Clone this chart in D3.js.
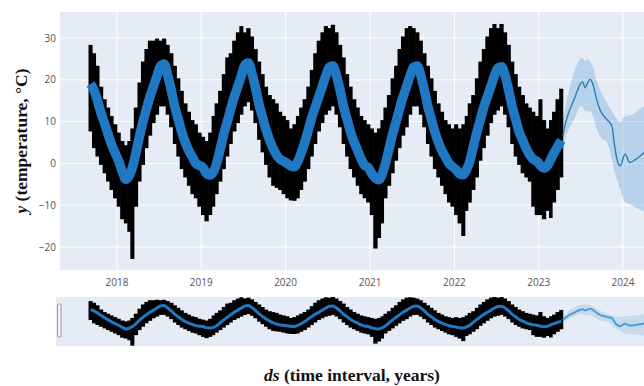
<!DOCTYPE html>
<html>
<head>
<meta charset="utf-8">
<script src="https://cdn.jsdelivr.net/npm/d3@7"></script>
<style>
  body { margin: 0; background: #fff; }
  svg { display: block; }
</style>
</head>
<body>
<svg id="chart" width="644" height="386"></svg>
<script>
// Observations summarised per half-month (1st–15th, 16th–end), starting Sep 2017, °C
const firstBinYear = 2017, firstBinMonth = 8; // September (0-based month)

const obsHigh = [
  28, 26, 23, 18, 15, 13, 11, 9,
  7, 5, 4, 5, 8, 13, 19, 24, 27, 29, 29, 29.5, 29, 29.5, 28, 26, 23, 20, 17, 14, 12, 10, 9, 7,
  6, 5, 7, 11, 14, 17, 21, 25, 26, 29, 31, 32.5, 31, 32, 30, 27, 24, 21, 18, 16, 15, 14, 12, 11,
  10, 8, 9, 11, 13, 15, 18, 22, 26, 29, 31, 32.5, 32, 32.8, 31, 28, 25, 21, 18, 15, 13, 11, 10, 9,
  8, 7, 8, 10, 13, 16, 20, 23, 27, 30, 32, 32.5, 32, 31, 29, 26, 23, 20, 17, 14, 12, 10, 9, 8,
  9, 8, 9, 11, 14, 16, 20, 24, 27, 30, 32, 33, 32, 33, 31, 28, 24, 21, 18, 16, 14, 13, 12, 11,
  15, 10, 8, 10, 12, 15, 17.5
];

const obsLow = [
  8, 4, 2, 0, -2, -4, -6, -8,
  -10, -13, -14, -16, -22.5, -10, -4, 0, 4, 7, 10, 12, 14, 14, 12, 9, 5, 2, -1, -3, -5, -7, -8, -10,
  -12, -13.5, -12, -10, -7, -4, -1, 2, 5, 8, 10, 12, 14, 15, 13, 10, 6, 3, 0, -3, -5, -5.5, -6, -7,
  -8, -8.5, -8.6, -8, -6, -4, -1, 2, 5, 8, 10, 12, 13, 14, 12, 9, 5, 2, -1, -3, -5, -7, -8, -9,
  -12, -20, -17.5, -14, -8, -5, -2, 1, 4, 7, 9, 12, 14, 14, 12, 9, 5, 2, -1, -3, -5, -7, -9, -10,
  -12, -14, -17, -11, -9, -6, -3, 1, 4, 7, 10, 12, 13, 14, 12, 9, 5, 2, 0, -2, -3, -4, -10, -12,
  -12, -13, -11, -12.7, -9, -6, -3
];

// Fitted model over the observed period, same half-month bins
const fitValue = [
  19, 17.5, 15, 12, 9.5, 7, 4.5, 2.5,
  0.5, -2, -3.8, -3, -1, 2.5, 6.5, 10, 13, 16, 18.5, 21, 23.3, 23.8, 21, 17.5, 13.5, 10.5, 7.5, 5, 3, 1.5, 0, -0.5,
  -1, -2.5, -2.8, -2, 0, 3.5, 7, 10, 13, 16, 18.5, 21, 23.5, 24, 21.5, 18, 14, 11, 8, 5.5, 3.5, 2, 1, 0.5,
  0, -0.6, -0.8, 0.5, 2.5, 5, 8, 11, 13.5, 16, 18.5, 21, 23, 23.3, 21, 17.5, 13.5, 10.5, 7.5, 5, 3, 1, -0.5, -1,
  -2.5, -3.5, -3.9, -2.5, 0, 3.5, 7, 10, 13, 16, 18.5, 21, 23, 23.3, 21, 17.5, 13.5, 10.5, 7.5, 5, 3, 1.5, 0, -0.8,
  -1.5, -2.5, -2.7, -1.5, 0.5, 4, 7.5, 10.5, 13.5, 16, 18.5, 21, 22.8, 23.1, 21, 17.5, 13.5, 10.5, 7.5, 5.5, 3.5, 2, 1, 0.5,
  -0.5, -1.1, -0.5, 1, 2.5, 4, 5.5
];

// Forecast beyond the last observation
const forecastDates = [
  "2023-04-16", "2023-04-24", "2023-05-10", "2023-05-29", "2023-06-15", "2023-06-29",
  "2023-07-10", "2023-07-21", "2023-08-01", "2023-08-11", "2023-08-24", "2023-09-08",
  "2023-09-23", "2023-10-08", "2023-10-23", "2023-11-14", "2023-11-25", "2023-12-06",
  "2023-12-19", "2024-01-10", "2024-01-31", "2024-02-20", "2024-03-14", "2024-04-01"
];
const forecastValue = [
  6.5, 8.9, 12, 14.6, 17, 18.9,
  19.5, 18.1, 19.3, 20.1, 18.9, 15.5,
  12.9, 11.5, 10.5, 8.9, 4.5, 1.0,
  -0.6, 2.2, 0.2, 0.8, 1.7, 2.6
];
const forecastUpper = [
  9.5, 12.5, 17, 21, 23.5, 24.9,
  25.2, 24.5, 25, 24.5, 23, 20,
  17.7, 16, 14.5, 12.5, 11.5, 10.5,
  10, 11.3, 11.5, 12, 13, 13.6
];
const forecastLower = [
  3.5, 5.7, 8, 10, 12, 13.6,
  13.5, 12.5, 12.5, 12.5, 11.3, 8.5,
  6.5, 5.7, 5, 1, -2, -3.8,
  -6, -9.3, -9.8, -10.5, -11, -11.5
];

const yTicks = [-20, -10, 0, 10, 20, 30];
const xTickYears = [2018, 2019, 2020, 2021, 2022, 2023, 2024];

// ---------------------------------------------------------------
const svg = d3.select("#chart");
const W = 644;
const main = { left: 60, right: 644, top: 12, bottom: 270 };
const slider = { left: 56, right: 644, top: 297, bottom: 346 };
const bg = "#e5ecf6";

const parse = d3.timeParse("%Y-%m-%d");
const bins = obsHigh.map((_, i) => {
  const m = firstBinMonth + Math.floor(i / 2);
  const start = new Date(firstBinYear, m, i % 2 ? 16 : 1);
  const end = i % 2 ? new Date(firstBinYear, m + 1, 1) : new Date(firstBinYear, m, 16);
  return { start, end, mid: new Date((+start + +end) / 2), hi: obsHigh[i], lo: obsLow[i], fit: fitValue[i] };
});
const forecast = forecastDates.map((d, i) => ({
  date: parse(d), v: forecastValue[i], up: forecastUpper[i], lo: forecastLower[i]
}));

const x = d3.scaleTime()
  .domain([new Date(2018, 0, 1), new Date(2024, 0, 1)])
  .range([117, 623]);
const y = d3.scaleLinear().domain([-20, 30]).range([247, 38]);
const y2 = d3.scaleLinear().domain([-24, 34]).range([slider.bottom, slider.top]);

const defs = svg.append("defs");
defs.append("clipPath").attr("id", "clipMain").append("rect")
  .attr("x", main.left).attr("y", main.top)
  .attr("width", main.right - main.left).attr("height", main.bottom - main.top);
defs.append("clipPath").attr("id", "clipSlider").append("rect")
  .attr("x", slider.left).attr("y", slider.top)
  .attr("width", slider.right - slider.left).attr("height", slider.bottom - slider.top);

// ---- main panel ----
svg.append("rect")
  .attr("x", main.left).attr("y", main.top)
  .attr("width", main.right - main.left).attr("height", main.bottom - main.top)
  .attr("fill", bg);

const grid = svg.append("g").attr("clip-path", "url(#clipMain)");
grid.selectAll("line.gx").data(xTickYears).join("line")
  .attr("x1", d => x(new Date(d, 0, 1))).attr("x2", d => x(new Date(d, 0, 1)))
  .attr("y1", main.top).attr("y2", main.bottom)
  .attr("stroke", "#fff").attr("stroke-width", 1);
grid.selectAll("line.gy").data(yTicks).join("line")
  .attr("x1", main.left).attr("x2", main.right)
  .attr("y1", d => y(d)).attr("y2", d => y(d))
  .attr("stroke", "#fff").attr("stroke-width", 1);

const plot = svg.append("g").attr("clip-path", "url(#clipMain)");

// observed temperature spread
plot.selectAll("rect.obs").data(bins).join("rect")
  .attr("x", d => x(d.start) - 0.3)
  .attr("width", d => x(d.end) - x(d.start) + 0.6)
  .attr("y", d => y(d.hi) - 1.5)
  .attr("height", d => y(d.lo) - y(d.hi) + 3)
  .attr("fill", "#000");

// fitted curve over history
const fitLine = d3.line().x(d => x(d.mid)).y(d => y(d.fit)).curve(d3.curveMonotoneX);
plot.append("path").datum(bins)
  .attr("d", fitLine)
  .attr("fill", "none").attr("stroke", "#1f78c1")
  .attr("stroke-width", 9.5).attr("stroke-linejoin", "round");

// forecast uncertainty and forecast line
const fcArea = d3.area().x(d => x(d.date)).y0(d => y(d.lo)).y1(d => y(d.up)).curve(d3.curveMonotoneX);
plot.append("path").datum(forecast)
  .attr("d", fcArea).attr("fill", "#4f95cf").attr("fill-opacity", 0.3);
const fcLine = d3.line().x(d => x(d.date)).y(d => y(d.v)).curve(d3.curveMonotoneX);
plot.append("path").datum(forecast)
  .attr("d", fcLine).attr("fill", "none")
  .attr("stroke", "#2f7fb3").attr("stroke-width", 1.4);

// tick labels
svg.append("g").selectAll("text").data(xTickYears).join("text")
  .attr("x", d => x(new Date(d, 0, 1))).attr("y", 286)
  .attr("text-anchor", "middle")
  .attr("font-family", "'Open Sans', sans-serif").attr("font-size", 10)
  .attr("fill", "#555")
  .text(d => d);
svg.append("g").selectAll("text").data(yTicks).join("text")
  .attr("x", 56).attr("y", d => y(d)).attr("dy", "0.35em")
  .attr("text-anchor", "end")
  .attr("font-family", "'Open Sans', sans-serif").attr("font-size", 10)
  .attr("fill", "#555")
  .text(d => d < 0 ? "\u2212" + Math.abs(d) : d);

// ---- range slider ----
svg.append("rect")
  .attr("x", slider.left).attr("y", slider.top)
  .attr("width", slider.right - slider.left).attr("height", slider.bottom - slider.top)
  .attr("fill", bg);
const sl = svg.append("g").attr("clip-path", "url(#clipSlider)");
sl.selectAll("rect.obs").data(bins).join("rect")
  .attr("x", d => x(d.start) - 0.3)
  .attr("width", d => x(d.end) - x(d.start) + 0.6)
  .attr("y", d => y2(d.hi) - 1)
  .attr("height", d => y2(d.lo) - y2(d.hi) + 2)
  .attr("fill", "#000");
sl.append("path").datum(bins)
  .attr("d", d3.line().x(d => x(d.mid)).y(d => y2(d.fit)).curve(d3.curveMonotoneX))
  .attr("fill", "none").attr("stroke", "#1f78c1").attr("stroke-width", 3);
sl.append("path").datum(forecast)
  .attr("d", d3.area().x(d => x(d.date)).y0(d => y2(d.lo)).y1(d => y2(d.up)).curve(d3.curveMonotoneX))
  .attr("fill", "#4f95cf").attr("fill-opacity", 0.2);
sl.append("path").datum(forecast)
  .attr("d", d3.line().x(d => x(d.date)).y(d => y2(d.v)).curve(d3.curveMonotoneX))
  .attr("fill", "none").attr("stroke", "#4a9fd4").attr("stroke-width", 2);
// slider grab handle
svg.append("rect")
  .attr("x", 57.5).attr("y", 304).attr("width", 3.5).attr("height", 33)
  .attr("fill", "#f4f4f4").attr("stroke", "#999").attr("stroke-width", 1).attr("rx", 1);

// ---- axis titles ----
const titleFont = "'Liberation Serif', 'Times New Roman', serif";
const xt = svg.append("text")
  .attr("x", (main.left + main.right) / 2).attr("y", 381)
  .attr("text-anchor", "middle")
  .attr("font-family", titleFont).attr("font-weight", "bold").attr("font-size", 17.5)
  .attr("fill", "#111");
xt.append("tspan").attr("font-style", "italic").text("ds");
xt.append("tspan").text(" (time interval, years)");

const yt = svg.append("text")
  .attr("transform", `translate(27,${(main.top + main.bottom) / 2}) rotate(-90)`)
  .attr("text-anchor", "middle")
  .attr("font-family", titleFont).attr("font-weight", "bold").attr("font-size", 17.5)
  .attr("fill", "#111");
yt.append("tspan").attr("font-style", "italic").text("y");
yt.append("tspan").text(" (temperature, \u00b0C)");
</script>
</body>
</html>
